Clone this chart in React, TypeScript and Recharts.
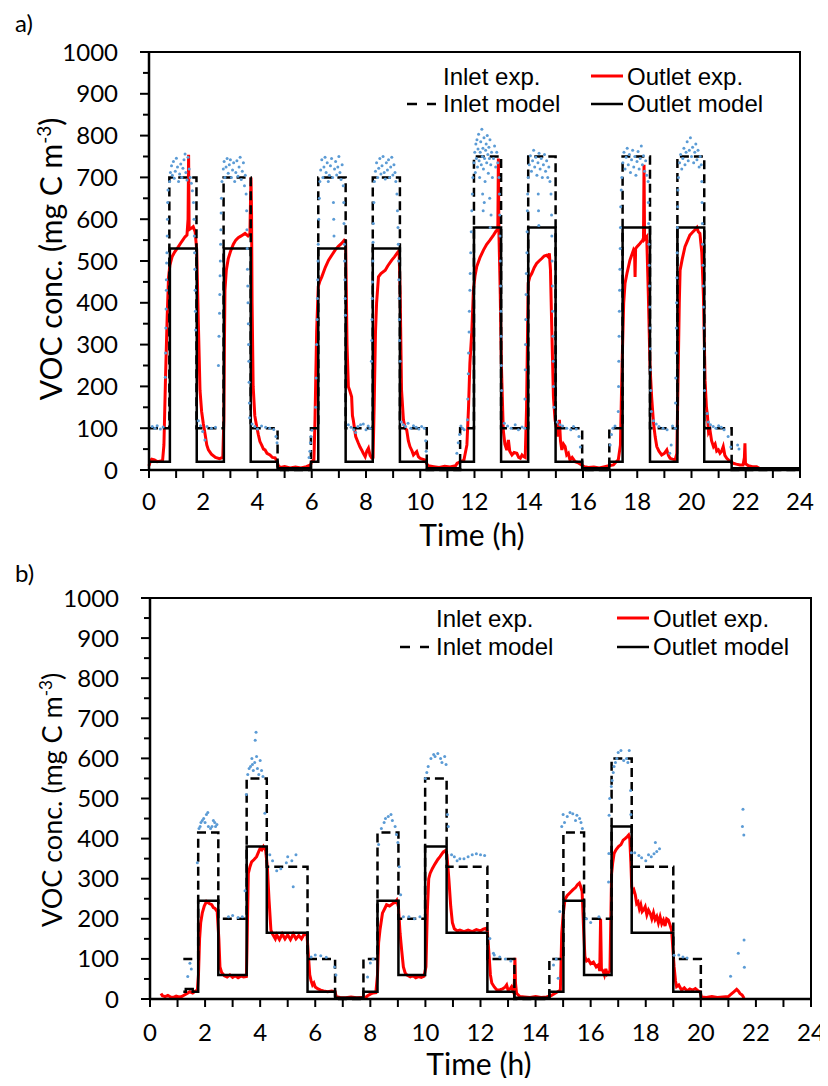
import React from 'react';
import { ComposedChart, Line, Scatter, XAxis, YAxis, ReferenceArea, Legend, Label } from 'recharts';

type Pt = [number, number]; // [time (h), VOC conc. (mg C m-3)]

const xTicks = [0, 1, 2, 3, 4, 5, 6, 7, 8, 9, 10, 11, 12, 13, 14, 15, 16, 17, 18, 19, 20, 21, 22, 23, 24];
const yTicks = [0, 50, 100, 150, 200, 250, 300, 350, 400, 450, 500, 550, 600, 650, 700, 750, 800, 850, 900, 950, 1000];

// ---- panel a) ----
// model series are step changes: [time the level starts, level]
const aInletModel: Pt[] = [
  [0, 100], [0.75, 700], [1.75, 100], [2.75, 700], [3.75, 100], [4.74, 0], [5.97, 100], [6.24, 700],
  [7.25, 100], [8.25, 700], [9.25, 100], [10.24, 0], [11.47, 100], [11.98, 750], [12.98, 100], [13.98, 750],
  [14.99, 100], [15.97, 0], [16.97, 100], [17.46, 750], [18.47, 100], [19.48, 750], [20.47, 100], [21.48, 0], [24, 0],
];
const aOutletModel: Pt[] = [
  [0, 20], [0.77, 530], [1.76, 20], [2.76, 530], [3.75, 20], [4.74, 4], [5.97, 20], [6.24, 530],
  [7.25, 20], [8.25, 530], [9.25, 20], [10.24, 4], [11.47, 20], [11.98, 580], [12.98, 20], [13.98, 580],
  [14.99, 20], [15.97, 4], [16.97, 20], [17.46, 580], [18.47, 20], [19.48, 580], [20.47, 20], [21.48, 4], [24, 4],
];
const aOutletExp: Pt[] = [
  [0, 10], [0.05, 22], [0.1, 26], [0.2, 24], [0.3, 20], [0.4, 21], [0.5, 22], [0.55, 60], [0.61, 223], [0.67, 366],
  [0.72, 460], [0.77, 490], [0.85, 510], [0.95, 522], [1.08, 534], [1.2, 546], [1.33, 558], [1.4, 562], [1.44, 600],
  [1.46, 754], [1.48, 575], [1.55, 578], [1.63, 582], [1.7, 570], [1.76, 526], [1.82, 350], [1.88, 191], [1.94, 140],
  [2.0, 112], [2.07, 85], [2.13, 60], [2.19, 48], [2.3, 38], [2.45, 30], [2.6, 27], [2.72, 30],
  [2.76, 120], [2.78, 300], [2.8, 430], [2.85, 478], [2.92, 505], [3.0, 522], [3.11, 540], [3.2, 550], [3.29, 556],
  [3.4, 560], [3.54, 566], [3.65, 560], [3.72, 565], [3.76, 700], [3.78, 620], [3.8, 400], [3.84, 200], [3.9, 130],
  [3.97, 104], [4.03, 85], [4.09, 68], [4.15, 60], [4.22, 50], [4.28, 48], [4.35, 40], [4.46, 36], [4.55, 30],
  [4.65, 29], [4.72, 20], [4.77, 10], [4.85, 6], [5.0, 8], [5.2, 5], [5.4, 7], [5.6, 5], [5.8, 8], [5.95, 12],
  [6.0, 20], [6.08, 25], [6.12, 120], [6.18, 330], [6.24, 439], [6.3, 452], [6.37, 462], [6.5, 485], [6.62, 502],
  [6.75, 515], [6.86, 526], [6.98, 535], [7.1, 542], [7.2, 550], [7.25, 548], [7.3, 300], [7.35, 199], [7.4, 190],
  [7.47, 175], [7.5, 130], [7.53, 120], [7.62, 80], [7.72, 64], [7.78, 55], [7.84, 48], [7.9, 40], [7.97, 32],
  [8.03, 45], [8.09, 52], [8.15, 35], [8.21, 29], [8.26, 30], [8.3, 150], [8.35, 330], [8.39, 399], [8.46, 462],
  [8.55, 470], [8.71, 478], [8.8, 488], [8.95, 502], [9.05, 510], [9.14, 518], [9.22, 525], [9.26, 420], [9.31, 191],
  [9.38, 120], [9.44, 100], [9.5, 96], [9.56, 70], [9.62, 56], [9.7, 45], [9.75, 36], [9.81, 40], [9.87, 44],
  [9.93, 32], [9.99, 28], [10.08, 26], [10.17, 24], [10.25, 14], [10.3, 10], [10.5, 8], [10.7, 6], [10.9, 9],
  [11.1, 7], [11.3, 10], [11.36, 16], [11.5, 20], [11.61, 24], [11.72, 60], [11.78, 150], [11.83, 255], [11.9, 330],
  [11.96, 430], [12.02, 465], [12.08, 486], [12.2, 508], [12.33, 526], [12.45, 540], [12.57, 550], [12.7, 562],
  [12.8, 572], [12.86, 575], [12.88, 745], [12.9, 570], [12.95, 420], [12.99, 255], [13.06, 96], [13.12, 62],
  [13.19, 48], [13.25, 72], [13.3, 45], [13.38, 36], [13.46, 42], [13.56, 40], [13.63, 30], [13.69, 28], [13.75, 36],
  [13.81, 32], [13.87, 30], [13.92, 150], [13.98, 447], [14.04, 462], [14.11, 470], [14.2, 484], [14.29, 494],
  [14.38, 500], [14.48, 506], [14.57, 512], [14.66, 514], [14.72, 510], [14.76, 518], [14.8, 480], [14.85, 335],
  [14.91, 175], [14.97, 120], [15.03, 96], [15.08, 80], [15.13, 120], [15.17, 70], [15.22, 48], [15.28, 62],
  [15.34, 56], [15.4, 36], [15.46, 40], [15.52, 24], [15.6, 30], [15.71, 20], [15.8, 18], [15.95, 12], [16.05, 8],
  [16.2, 6], [16.4, 7], [16.6, 5], [16.8, 8], [16.95, 10], [17.12, 12], [17.2, 18], [17.3, 24], [17.38, 60],
  [17.44, 250], [17.5, 400], [17.55, 447], [17.62, 470], [17.73, 502], [17.8, 515], [17.86, 526], [17.9, 520],
  [17.92, 462], [17.94, 530], [18.0, 535], [18.1, 542], [18.2, 550], [18.23, 555], [18.25, 730], [18.27, 552],
  [18.35, 558], [18.41, 415], [18.47, 250], [18.53, 175], [18.6, 112], [18.66, 80], [18.72, 56], [18.8, 45],
  [18.9, 36], [19.0, 40], [19.09, 48], [19.15, 35], [19.21, 28], [19.3, 26], [19.4, 24], [19.46, 40], [19.5, 200],
  [19.55, 400], [19.58, 478], [19.66, 505], [19.76, 534], [19.85, 548], [19.94, 562], [20.03, 568], [20.12, 574],
  [20.2, 580], [20.25, 570], [20.31, 566], [20.38, 520], [20.44, 415], [20.5, 215], [20.55, 150], [20.59, 128],
  [20.63, 90], [20.68, 96], [20.74, 70], [20.81, 56], [20.87, 62], [20.93, 45], [20.99, 48], [21.05, 40],
  [21.11, 45], [21.17, 56], [21.23, 35], [21.3, 28], [21.4, 22], [21.54, 16], [21.65, 14], [21.79, 12], [21.9, 12],
  [21.95, 30], [21.97, 64], [21.99, 15], [22.1, 10], [22.25, 8], [22.4, 8], [22.5, 4],
];
const aInletExp: Pt[] = [
  [0.12, 104], [0.22, 100], [0.3, 106], [0.42, 98], [0.52, 103],
  [0.6, 222], [0.61, 280], [0.62, 340], [0.63, 385], [0.64, 430], [0.64, 455], [0.65, 495], [0.66, 520], [0.67, 560],
  [0.68, 600], [0.69, 640], [0.7, 670], [0.76, 690], [0.79, 712], [0.83, 728], [0.86, 705], [0.9, 738], [0.93, 698],
  [0.97, 715], [1.01, 746], [1.05, 725], [1.09, 690], [1.13, 708], [1.17, 732], [1.21, 700], [1.25, 722], [1.29, 742],
  [1.33, 756], [1.36, 712], [1.4, 694], [1.44, 748], [1.48, 720], [1.52, 700], [1.56, 686], [1.6, 668], [1.64, 640],
  [1.66, 600], [1.67, 560], [1.68, 520], [1.69, 480], [1.7, 430], [1.71, 380], [1.72, 335],
  [1.82, 118], [1.9, 106], [1.98, 92], [2.06, 72], [2.14, 104], [2.3, 100], [2.45, 102],
  [2.56, 250], [2.58, 320], [2.6, 375], [2.61, 420], [2.62, 465], [2.63, 500], [2.64, 540], [2.65, 575], [2.66, 615],
  [2.67, 650], [2.69, 690], [2.74, 720], [2.77, 738], [2.8, 700], [2.84, 725], [2.88, 745], [2.92, 710], [2.96, 730],
  [3.0, 742], [3.04, 700], [3.08, 718], [3.12, 735], [3.16, 690], [3.2, 712], [3.24, 740], [3.28, 703], [3.32, 725],
  [3.36, 748], [3.4, 695], [3.44, 715], [3.48, 735], [3.52, 680], [3.55, 705], [3.58, 660], [3.6, 620], [3.61, 575],
  [3.62, 530], [3.63, 480], [3.64, 440], [3.65, 400], [3.66, 350], [3.67, 300], [3.68, 260], [3.69, 210], [3.7, 160],
  [3.71, 125], [3.8, 110], [3.9, 104], [4.0, 98], [4.15, 105], [4.3, 102], [4.45, 100], [4.6, 97], [4.68, 80], [4.72, 65],
  [5.9, 30], [5.93, 45], [5.95, 65], [5.97, 80], [6.0, 95],
  [6.14, 150], [6.16, 220], [6.18, 300], [6.2, 360], [6.21, 410], [6.22, 455], [6.23, 500], [6.24, 540], [6.26, 600],
  [6.28, 650], [6.3, 690], [6.33, 718], [6.37, 742], [6.41, 700], [6.45, 725], [6.49, 748], [6.53, 712], [6.57, 735],
  [6.61, 690], [6.65, 705], [6.69, 728], [6.73, 745], [6.77, 700], [6.8, 640], [6.81, 600], [6.82, 560], [6.84, 720],
  [6.88, 738], [6.92, 706], [6.96, 725], [7.0, 750], [7.04, 712], [7.08, 695], [7.12, 730], [7.16, 680], [7.18, 640],
  [7.19, 590], [7.2, 540], [7.21, 500], [7.22, 455], [7.23, 410], [7.24, 370],
  [7.35, 108], [7.45, 102], [7.55, 96], [7.62, 90], [7.7, 104], [7.8, 108], [7.9, 110], [8.0, 96], [8.08, 105], [8.15, 100],
  [8.2, 260], [8.21, 310], [8.22, 360], [8.23, 410], [8.24, 450], [8.25, 500], [8.26, 545], [8.27, 590], [8.29, 640],
  [8.31, 690], [8.35, 715], [8.39, 735], [8.43, 700], [8.47, 722], [8.51, 745], [8.55, 708], [8.59, 728], [8.63, 750],
  [8.67, 712], [8.71, 696], [8.75, 735], [8.79, 718], [8.83, 742], [8.87, 700], [8.91, 725], [8.95, 748], [8.99, 706],
  [9.03, 730], [9.07, 712], [9.1, 690], [9.14, 660], [9.16, 620], [9.18, 580], [9.19, 540], [9.2, 500], [9.21, 455],
  [9.22, 410], [9.23, 360], [9.24, 310], [9.26, 260],
  [9.3, 115], [9.38, 108], [9.46, 104], [9.55, 112], [9.65, 100], [9.75, 106], [9.85, 102], [9.95, 98], [10.05, 104],
  [10.15, 100], [10.2, 70], [10.22, 45],
  [11.35, 40], [11.4, 65], [11.45, 85], [11.5, 105], [11.56, 100], [11.62, 96],
  [11.74, 120], [11.75, 170], [11.77, 230], [11.78, 280], [11.8, 330], [11.81, 380], [11.83, 430], [11.84, 470],
  [11.86, 520], [11.88, 570], [11.9, 620], [11.92, 660], [11.94, 700], [11.98, 735], [12.01, 760], [12.03, 712],
  [12.05, 780], [12.07, 745], [12.09, 790], [12.11, 725], [12.13, 768], [12.15, 803], [12.17, 740], [12.19, 700],
  [12.21, 760], [12.23, 785], [12.25, 730], [12.27, 815], [12.29, 750], [12.3, 660], [12.31, 770], [12.32, 620],
  [12.33, 720], [12.35, 795], [12.36, 640], [12.37, 745], [12.39, 690], [12.41, 765], [12.43, 780], [12.45, 735],
  [12.47, 800], [12.49, 755], [12.51, 710], [12.53, 772], [12.55, 745], [12.56, 650], [12.57, 790], [12.58, 580],
  [12.6, 730], [12.61, 610], [12.63, 760], [12.66, 700], [12.7, 745], [12.74, 775], [12.78, 725], [12.82, 760],
  [12.86, 735], [12.9, 700], [12.92, 660], [12.93, 610], [12.94, 560], [12.95, 500], [12.96, 440], [12.97, 380],
  [12.98, 320], [12.99, 250], [13.0, 190],
  [13.1, 112], [13.22, 105], [13.35, 100], [13.5, 108], [13.62, 96], [13.75, 103], [13.85, 100],
  [13.86, 170], [13.87, 240], [13.88, 300], [13.89, 360], [13.9, 420], [13.91, 470], [13.93, 520], [13.94, 570],
  [13.95, 620], [13.96, 660], [13.98, 700], [14.02, 730], [14.06, 752], [14.1, 715], [14.14, 740], [14.18, 765],
  [14.22, 725], [14.26, 748], [14.3, 705], [14.34, 735], [14.35, 660], [14.36, 620], [14.37, 585], [14.38, 758],
  [14.42, 720], [14.46, 745], [14.5, 700], [14.54, 730], [14.58, 755], [14.62, 715], [14.66, 740], [14.7, 700],
  [14.74, 725], [14.78, 690], [14.82, 660], [14.84, 610], [14.85, 560], [14.86, 500], [14.87, 440], [14.88, 380],
  [14.89, 320], [14.9, 260], [14.91, 200], [14.93, 150],
  [15.05, 115], [15.15, 108], [15.25, 105], [15.4, 100], [15.55, 96], [15.65, 104], [15.75, 98], [15.85, 80], [15.9, 55],
  [17.0, 60], [17.05, 85], [17.1, 100], [17.18, 105],
  [17.3, 140], [17.31, 200], [17.32, 260], [17.33, 320], [17.34, 380], [17.35, 430], [17.36, 480], [17.37, 530],
  [17.38, 580], [17.39, 630], [17.41, 670], [17.43, 700], [17.47, 735], [17.51, 760], [17.55, 720], [17.59, 748],
  [17.63, 770], [17.67, 730], [17.71, 755], [17.75, 712], [17.79, 742], [17.83, 765], [17.87, 725], [17.91, 750],
  [17.95, 705], [17.99, 738], [18.03, 762], [18.07, 720], [18.11, 745], [18.15, 775], [18.19, 730], [18.23, 752],
  [18.27, 715], [18.31, 740], [18.35, 705], [18.4, 690], [18.41, 640], [18.42, 590], [18.43, 540], [18.44, 490],
  [18.45, 440], [18.46, 390], [18.47, 340], [18.48, 290], [18.49, 240], [18.5, 190], [18.52, 140],
  [18.6, 118], [18.7, 110], [18.8, 104], [18.95, 100], [19.1, 96], [19.2, 40], [19.25, 60], [19.3, 105], [19.4, 100],
  [19.41, 160], [19.42, 220], [19.43, 280], [19.44, 340], [19.45, 400], [19.46, 460], [19.47, 520], [19.48, 580],
  [19.49, 630], [19.5, 670], [19.52, 700], [19.56, 735], [19.6, 755], [19.64, 720], [19.68, 745], [19.72, 770],
  [19.76, 730], [19.8, 760], [19.84, 785], [19.88, 740], [19.92, 765], [19.96, 795], [20.0, 750], [20.04, 772],
  [20.08, 735], [20.12, 760], [20.16, 780], [20.2, 742], [20.24, 765], [20.28, 725], [20.32, 750], [20.36, 730],
  [20.38, 690], [20.39, 640], [20.4, 590], [20.41, 540], [20.42, 490], [20.43, 440], [20.44, 390], [20.45, 340],
  [20.46, 290], [20.47, 240], [20.48, 190],
  [20.58, 135], [20.62, 115], [20.7, 108], [20.8, 104], [20.9, 100], [21.0, 106], [21.1, 102], [21.2, 96],
  [21.35, 80], [21.45, 55], [21.7, 60], [21.75, 50],
];

// ---- panel b) ----
const bInletModel: Pt[] = [
  [1.21, 100], [1.75, 415], [2.48, 200], [3.51, 550], [4.24, 330], [5.72, 100], [6.72, 0], [7.75, 100],
  [8.26, 415], [9.02, 200], [9.99, 550], [10.77, 330], [12.25, 100], [13.23, 0], [14.5, 100], [15.01, 415],
  [15.76, 200], [16.76, 600], [17.49, 330], [19.0, 100], [20.0, 0],
];
const bOutletModel: Pt[] = [
  [1.21, 18], [1.3, 25], [1.55, 18], [1.75, 245], [2.48, 60], [3.51, 380], [4.24, 165], [5.72, 18], [6.72, 3],
  [7.75, 18], [8.26, 245], [9.02, 60], [9.99, 380], [10.77, 165], [12.25, 18], [13.23, 3], [14.5, 18],
  [15.01, 245], [15.76, 60], [16.76, 430], [17.49, 165], [19.0, 18], [20.0, 3],
];
const bOutletExp: Pt[] = [
  [0.4, 14], [0.45, 8], [0.55, 6], [0.65, 9], [0.75, 5], [0.85, 4], [0.95, 7], [1.05, 5], [1.15, 6], [1.25, 10],
  [1.35, 14], [1.45, 18], [1.55, 15], [1.65, 20], [1.72, 22], [1.76, 60], [1.8, 150], [1.84, 190], [1.9, 215],
  [1.97, 232], [2.05, 243], [2.15, 238], [2.24, 235], [2.3, 228], [2.36, 226], [2.44, 218], [2.5, 150], [2.54, 80],
  [2.6, 66], [2.7, 58], [2.8, 55], [2.9, 60], [3.0, 54], [3.1, 58], [3.2, 53], [3.3, 57], [3.4, 55], [3.5, 56],
  [3.52, 120], [3.57, 313], [3.63, 330], [3.69, 342], [3.78, 348], [3.87, 355], [3.95, 368], [4.0, 376], [4.06, 372],
  [4.12, 380], [4.2, 370], [4.26, 330], [4.32, 250], [4.39, 172], [4.45, 162], [4.55, 150], [4.6, 160], [4.7, 148],
  [4.8, 162], [4.9, 150], [5.0, 160], [5.1, 148], [5.2, 162], [5.3, 150], [5.4, 158], [5.5, 150], [5.6, 162],
  [5.7, 160], [5.76, 100], [5.8, 60], [5.85, 45], [5.9, 35], [5.95, 40], [6.0, 30], [6.1, 25], [6.2, 22], [6.3, 20],
  [6.45, 18], [6.6, 20], [6.72, 18], [6.76, 6], [6.9, 4], [7.1, 3], [7.3, 5], [7.5, 3], [7.7, 4], [7.8, 2], [7.9, 8],
  [8.0, 12], [8.1, 15], [8.2, 16], [8.26, 60], [8.3, 140], [8.35, 172], [8.44, 214], [8.52, 225], [8.59, 235],
  [8.7, 232], [8.84, 239], [8.9, 240], [8.96, 246], [9.02, 230], [9.08, 164], [9.14, 120], [9.2, 80], [9.26, 66],
  [9.32, 60], [9.45, 55], [9.55, 58], [9.65, 53], [9.75, 56], [9.85, 54], [9.95, 57], [10.02, 80], [10.07, 220],
  [10.12, 300], [10.17, 313], [10.25, 325], [10.35, 337], [10.45, 348], [10.53, 355], [10.6, 362], [10.65, 367],
  [10.72, 370], [10.78, 360], [10.85, 300], [10.92, 230], [10.98, 190], [11.05, 175], [11.15, 170], [11.25, 172],
  [11.4, 168], [11.55, 172], [11.7, 168], [11.85, 173], [12.0, 170], [12.1, 174], [12.2, 176], [12.25, 168],
  [12.3, 120], [12.36, 60], [12.41, 40], [12.5, 30], [12.6, 22], [12.71, 23], [12.8, 25], [12.9, 30], [12.95, 35],
  [13.0, 22], [13.07, 25], [13.12, 30], [13.18, 20], [13.23, 40], [13.25, 103], [13.27, 40], [13.31, 14], [13.43, 6],
  [13.6, 5], [13.8, 4], [14.0, 6], [14.2, 4], [14.4, 5], [14.55, 8], [14.65, 12], [14.8, 18], [14.9, 22],
  [14.95, 164], [15.0, 210], [15.07, 249], [15.15, 258], [15.25, 265], [15.35, 272], [15.45, 278], [15.52, 285],
  [15.59, 289], [15.64, 280], [15.69, 268], [15.74, 180], [15.79, 106], [15.85, 95], [15.92, 98], [16.0, 88],
  [16.1, 92], [16.2, 80], [16.28, 85], [16.33, 70], [16.36, 200], [16.39, 75], [16.45, 70], [16.5, 60], [16.55, 75],
  [16.6, 62], [16.65, 66], [16.7, 70], [16.76, 313], [16.8, 340], [16.85, 363], [16.92, 372], [17.01, 380],
  [17.1, 385], [17.18, 396], [17.25, 400], [17.33, 405], [17.38, 409], [17.42, 400], [17.46, 340], [17.49, 281],
  [17.53, 268], [17.57, 272], [17.62, 260], [17.67, 238], [17.72, 242], [17.77, 225], [17.82, 235], [17.87, 218],
  [17.92, 222], [17.98, 230], [18.04, 210], [18.1, 222], [18.16, 214], [18.22, 200], [18.28, 215], [18.34, 198],
  [18.4, 206], [18.46, 190], [18.52, 205], [18.58, 188], [18.64, 197], [18.7, 182], [18.76, 200], [18.82, 197],
  [18.88, 185], [18.94, 172], [18.99, 120], [19.03, 80], [19.08, 45], [19.12, 31], [19.2, 35], [19.3, 22],
  [19.4, 28], [19.5, 20], [19.6, 25], [19.7, 22], [19.8, 26], [19.9, 20], [19.97, 18], [20.02, 5], [20.2, 4],
  [20.4, 6], [20.6, 4], [20.8, 5], [21.0, 6], [21.1, 12], [21.2, 18], [21.3, 24], [21.36, 20], [21.42, 14],
  [21.5, 10], [21.57, 2],
];
const bInletExp: Pt[] = [
  [1.37, 56], [1.45, 89], [1.5, 75],
  [1.72, 340], [1.78, 425], [1.82, 430], [1.85, 440], [1.9, 445], [1.95, 450], [2.0, 440], [2.05, 460], [2.1, 465],
  [2.12, 430], [2.2, 425], [2.25, 430], [2.3, 445], [2.35, 440], [2.38, 430], [2.43, 435],
  [2.85, 205], [3.0, 208], [3.2, 203], [3.35, 205],
  [3.45, 270], [3.5, 510], [3.55, 560], [3.6, 575], [3.65, 580], [3.7, 600], [3.72, 585], [3.75, 570], [3.8, 590],
  [3.82, 645], [3.85, 665], [3.87, 605], [3.9, 575], [3.95, 560], [4.0, 595], [4.05, 570], [4.1, 555], [4.17, 463],
  [4.35, 360], [4.45, 345], [4.6, 320], [4.75, 325], [4.95, 340], [5.0, 355], [5.15, 345], [5.2, 280], [5.3, 360],
  [5.85, 105], [6.0, 110], [6.2, 108], [6.4, 104], [6.7, 80], [6.75, 60],
  [7.9, 55], [8.0, 90], [8.1, 100],
  [8.3, 385], [8.4, 425], [8.5, 440], [8.55, 450], [8.65, 455], [8.75, 460], [8.8, 445], [8.9, 430], [8.95, 410],
  [9.0, 390], [9.05, 330], [9.1, 260],
  [9.2, 205], [9.4, 205], [9.6, 200], [9.8, 205],
  [10.0, 550], [10.05, 565], [10.1, 580], [10.2, 600], [10.3, 610], [10.35, 605], [10.45, 612], [10.55, 600],
  [10.6, 590], [10.7, 605], [10.75, 585], [10.8, 460], [10.83, 430],
  [10.95, 360], [11.05, 355], [11.15, 345], [11.25, 350], [11.4, 350], [11.55, 355], [11.7, 360], [11.85, 362],
  [12.0, 360], [12.15, 358], [12.34, 151], [12.47, 114],
  [12.5, 110], [12.7, 105], [12.9, 100], [13.1, 95],
  [14.65, 85], [14.75, 100], [14.82, 52], [14.88, 218],
  [14.95, 430], [15.0, 460], [15.05, 440], [15.15, 455], [15.25, 465], [15.35, 462], [15.45, 445], [15.5, 458],
  [15.6, 450], [15.65, 440], [15.7, 425],
  [15.85, 200], [16.0, 191], [16.3, 205],
  [16.65, 292], [16.66, 363], [16.67, 458], [16.69, 500], [16.75, 530], [16.78, 545], [16.82, 565], [16.85, 580],
  [16.9, 590], [16.95, 600], [17.0, 615], [17.1, 620], [17.2, 595], [17.3, 600], [17.35, 590], [17.4, 620],
  [17.45, 520], [17.46, 460], [17.48, 365],
  [17.6, 365], [17.75, 358], [17.85, 352], [18.0, 345], [18.1, 360], [18.2, 355], [18.3, 362], [18.35, 390],
  [18.4, 368], [18.5, 375],
  [19.03, 109], [19.2, 110], [19.35, 105], [19.5, 102],
  [21.08, 57], [21.36, 114], [21.51, 430], [21.53, 473], [21.56, 409], [21.57, 147], [21.58, 79],
];

const rows = (arr: Pt[]) => arr.map(([t, v]) => ({ t, v }));

const BLUE = '#5B9BD5';
const RED = '#FF0000';
const TICK_FONT = 'Lato, sans-serif';
const LEGEND_FONT = '"Liberation Sans", Arial, sans-serif';

const blueDot = (p: any) => <circle cx={p.cx} cy={p.cy} r={1.5} fill={BLUE} />;

const yTick = (p: any) => {
  const { x, y, payload } = p;
  const major = payload.value % 100 === 0;
  return (
    <g>
      <line x1={x - (major ? 9 : 6)} y1={y} x2={x} y2={y} stroke="#000" strokeWidth={2} />
      {major && (
        <text x={x - 31} y={y + 8.5} textAnchor="end" fontFamily={TICK_FONT} fontSize={24} fill="#000">
          {payload.value}
        </text>
      )}
    </g>
  );
};

const makeXTick = (labelDy: number) => (p: any) => {
  const { x, y, payload } = p;
  const major = payload.value % 2 === 0;
  return (
    <g>
      <line x1={x} y1={y} x2={x} y2={y + 8} stroke="#000" strokeWidth={2} />
      {major && (
        <text x={x} y={y + labelDy} textAnchor="middle" fontFamily={TICK_FONT} fontSize={24} fill="#000">
          {payload.value}
        </text>
      )}
    </g>
  );
};

type Cfg = {
  tag: string;
  top: number;
  tagTop: number;
  height: number;
  margin: { top: number; right: number; bottom: number; left: number };
  tickDy: number;
  yTitle: [number, number, number];
  xTitle: [number, number];
  legend: { left: number; top: number; textX: number; lineX: number; dashX: number; rows: [number, number] };
};

const cfgA: Cfg = {
  tag: 'a)', top: 0, tagTop: 0, height: 556,
  margin: { top: 44, right: 28, bottom: 34, left: 81 },
  tickDy: 40, yTitle: [54, 251, 30], xTitle: [464, 538],
  legend: { left: 392, top: 55, textX: 43, lineX: 191, dashX: 7, rows: [22, 49] },
};
const cfgB: Cfg = {
  tag: 'b)', top: 544, tagTop: 6, height: 532,
  margin: { top: 46, right: 17, bottom: 25, left: 82 },
  tickDy: 42, yTitle: [54, 248, 27], xTitle: [471, 523],
  legend: { left: 392, top: 48, textX: 36, lineX: 217, dashX: 0, rows: [27, 55] },
};

function LegendBox({ cfg }: { cfg: Cfg }) {
  const { textX, lineX, dashX, rows } = cfg.legend;
  const outX = lineX + 36;
  const mid1 = rows[0] - 9;
  const mid2 = rows[1] - 8;
  return (
    <svg width={420} height={70} style={{ overflow: 'visible' }}>
      <g fontFamily={LEGEND_FONT} fontSize={24} fill="#000">
        <text x={textX} y={rows[0]}>Inlet exp.</text>
        <text x={textX} y={rows[1]}>Inlet model</text>
        <text x={outX} y={rows[0]}>Outlet exp.</text>
        <text x={outX} y={rows[1]}>Outlet model</text>
      </g>
      <line x1={dashX} x2={dashX + 10} y1={mid2} y2={mid2} stroke="#000" strokeWidth={2.5} />
      <line x1={dashX + 20} x2={dashX + 29} y1={mid2} y2={mid2} stroke="#000" strokeWidth={2.5} />
      <line x1={lineX} x2={lineX + 32} y1={mid1} y2={mid1} stroke={RED} strokeWidth={3} />
      <line x1={lineX} x2={lineX + 32} y1={mid2} y2={mid2} stroke="#000" strokeWidth={2.5} />
    </svg>
  );
}

function Panel({ cfg, inletExp, outletExp, inletModel, outletModel }: any) {
  const [yx, yy, yFont] = cfg.yTitle;
  const [xx, xy] = cfg.xTitle;
  const supShift = Math.round(yFont * 0.37);
  return (
    <div style={{ position: 'absolute', left: 0, top: cfg.top }}>
      <div style={{ position: 'absolute', left: 7, top: cfg.tagTop, fontFamily: TICK_FONT, fontSize: 24, zIndex: 2 }}>
        {cfg.tag}
      </div>
      <ComposedChart width={820} height={cfg.height} margin={cfg.margin}>
        <XAxis
          dataKey="t" type="number" domain={[0, 24]} ticks={xTicks} interval={0} height={60}
          tickLine={false} tickSize={0} tickMargin={0} axisLine={{ stroke: '#000', strokeWidth: 2.5 }}
          tick={makeXTick(cfg.tickDy)}
        >
          <Label
            content={() => (
              <text x={xx} y={xy} textAnchor="middle" fontFamily={TICK_FONT} fontSize={30} fill="#000">Time (h)</text>
            )}
          />
        </XAxis>
        <YAxis
          dataKey="v" type="number" domain={[0, 1000]} ticks={yTicks} interval={0} width={60}
          tickLine={false} tickSize={0} tickMargin={0} axisLine={{ stroke: '#000', strokeWidth: 2.5 }}
          tick={yTick}
        >
          <Label
            content={() => (
              <text transform={`translate(${yx}, ${yy}) rotate(-90)`} textAnchor="middle" fontFamily={TICK_FONT} fontSize={yFont} fill="#000">
                VOC conc. (mg C m<tspan dy={-supShift} fontSize={Math.round(yFont * 0.64)}>-3</tspan><tspan dy={supShift}>)</tspan>
              </text>
            )}
          />
        </YAxis>
        <ReferenceArea x1={0} x2={24} y1={0} y2={1000} fill="none" stroke="#000" strokeWidth={2} />
        <Scatter data={rows(inletExp)} dataKey="v" name="Inlet exp." fill={BLUE} shape={blueDot} isAnimationActive={false} />
        <Line data={rows(outletExp)} dataKey="v" name="Outlet exp." type="linear" stroke={RED} strokeWidth={3}
          dot={false} activeDot={false} isAnimationActive={false} />
        <Line data={rows(inletModel)} dataKey="v" name="Inlet model" type="stepAfter" stroke="#000" strokeWidth={2.5}
          strokeDasharray="9 5" dot={false} activeDot={false} isAnimationActive={false} />
        <Line data={rows(outletModel)} dataKey="v" name="Outlet model" type="stepAfter" stroke="#000" strokeWidth={2.5}
          dot={false} activeDot={false} isAnimationActive={false} />
        <Legend
          layout="horizontal" verticalAlign="middle" align="center"
          wrapperStyle={{ left: cfg.legend.left, top: cfg.legend.top, width: 420, height: 70 }}
          content={() => <LegendBox cfg={cfg} />}
        />
      </ComposedChart>
    </div>
  );
}

export default function App() {
  return (
    <div style={{ position: 'relative', width: 820, height: 1070 }}>
      <Panel cfg={cfgA} inletExp={aInletExp} outletExp={aOutletExp} inletModel={aInletModel} outletModel={aOutletModel} />
      <Panel cfg={cfgB} inletExp={bInletExp} outletExp={bOutletExp} inletModel={bInletModel} outletModel={bOutletModel} />
    </div>
  );
}
